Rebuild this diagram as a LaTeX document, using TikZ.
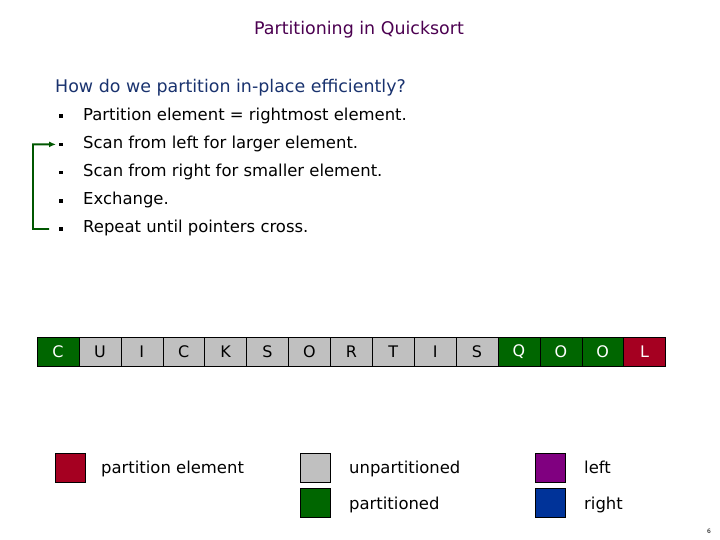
\documentclass[tikz,border=0pt]{standalone}
\usepackage{fontspec}
\setmainfont{DejaVu Sans}
\usetikzlibrary{arrows.meta, positioning}
\definecolor{titlepurple}{RGB}{75, 0, 80}
\definecolor{asknavy}{RGB}{25, 50, 110}
\definecolor{partgreen}{RGB}{0, 102, 0}
\definecolor{pivotred}{RGB}{165, 0, 33}
\definecolor{unpartgray}{RGB}{192, 192, 192}
\definecolor{leftpurple}{RGB}{128, 0, 128}
\definecolor{rightblue}{RGB}{0, 51, 153}

\begin{document}
\begin{tikzpicture}[
        x=1bp, y=-1bp,
        cell/.style={rectangle, draw, minimum width=41.9bp, minimum height=29bp, inner sep=0pt, font=\fontsize{16}{18}\selectfont},
        swatch/.style={rectangle, draw, minimum width=30bp, minimum height=29bp, inner sep=0pt},
        legtext/.style={anchor=west, inner sep=0pt, text height=12bp, text depth=4bp, font=\fontsize{16.5}{19}\selectfont},
        item/.style={anchor=west, inner sep=0pt, text height=12bp, text depth=4bp, font=\fontsize{16.5}{19}\selectfont},
        dot/.style={rectangle, fill, minimum size=3.5bp, inner sep=0pt},
        arrow/.style={-{Latex[length=7bp, width=6bp]}, line width=1.8bp, partgreen!85!black}
    ]
        \useasboundingbox (0,0) rectangle (720,540);

        % Title
        \node[titlepurple, font=\fontsize{17.5}{21}\selectfont] (title) at (359,30) {Partitioning in Quicksort};

        % Question
        \node[item, asknavy, font=\fontsize{17.5}{21}\selectfont] (ask) at (55,89) {How do we partition in-place efficiently?};

        % Steps
        \foreach \txt [count=\i] in {Partition element = rightmost element., Scan from left for larger element., Scan from right for smaller element., Exchange., Repeat until pointers cross.}
        {
            \node[dot] (d\i) at (61, 88+28.2*\i) {};
            \node[item] (s\i) at (83, 88+28.2*\i) {\txt};
        }

        % Loop back
        \coordinate (loop) at (33, 229);
        \draw[arrow] ([xshift=-10bp]d5.west) -- (loop) |- ([xshift=-3bp]d2.west);

        % Array
        \foreach \ltr/\clr/\tc [count=\i from 0] in {C/partgreen/white, U/unpartgray/black, I/unpartgray/black, C/unpartgray/black, K/unpartgray/black, S/unpartgray/black, O/unpartgray/black, R/unpartgray/black, T/unpartgray/black, I/unpartgray/black, S/unpartgray/black, Q/partgreen/white, O/partgreen/white, O/partgreen/white, L/pivotred/white}
        {
            \node[cell, fill=\clr, text=\tc] (c\i) at (58+41.9*\i, 351.5) {\ltr};
        }

        % Legend
        \node[swatch, fill=pivotred] (kpivot) at (70,467.5) {};
        \node[legtext] (tpivot) at (101,469.5) {partition element};
        \node[swatch, fill=unpartgray] (kunpart) at (315,467.5) {};
        \node[legtext] (tunpart) at (349,469.5) {unpartitioned};
        \node[swatch, fill=partgreen] (kpart) at (315,503) {};
        \node[legtext] (tpart) at (349,505) {partitioned};
        \node[swatch, fill=leftpurple] (kleft) at (550,467.5) {};
        \node[legtext] (tleft) at (584,469.5) {left};
        \node[swatch, fill=rightblue] (kright) at (550,503) {};
        \node[legtext] (tright) at (584,505) {right};

        % Page number
        \node[font=\fontsize{6}{7}\selectfont] (page) at (709,531) {6};
    \end{tikzpicture}
\end{document}
